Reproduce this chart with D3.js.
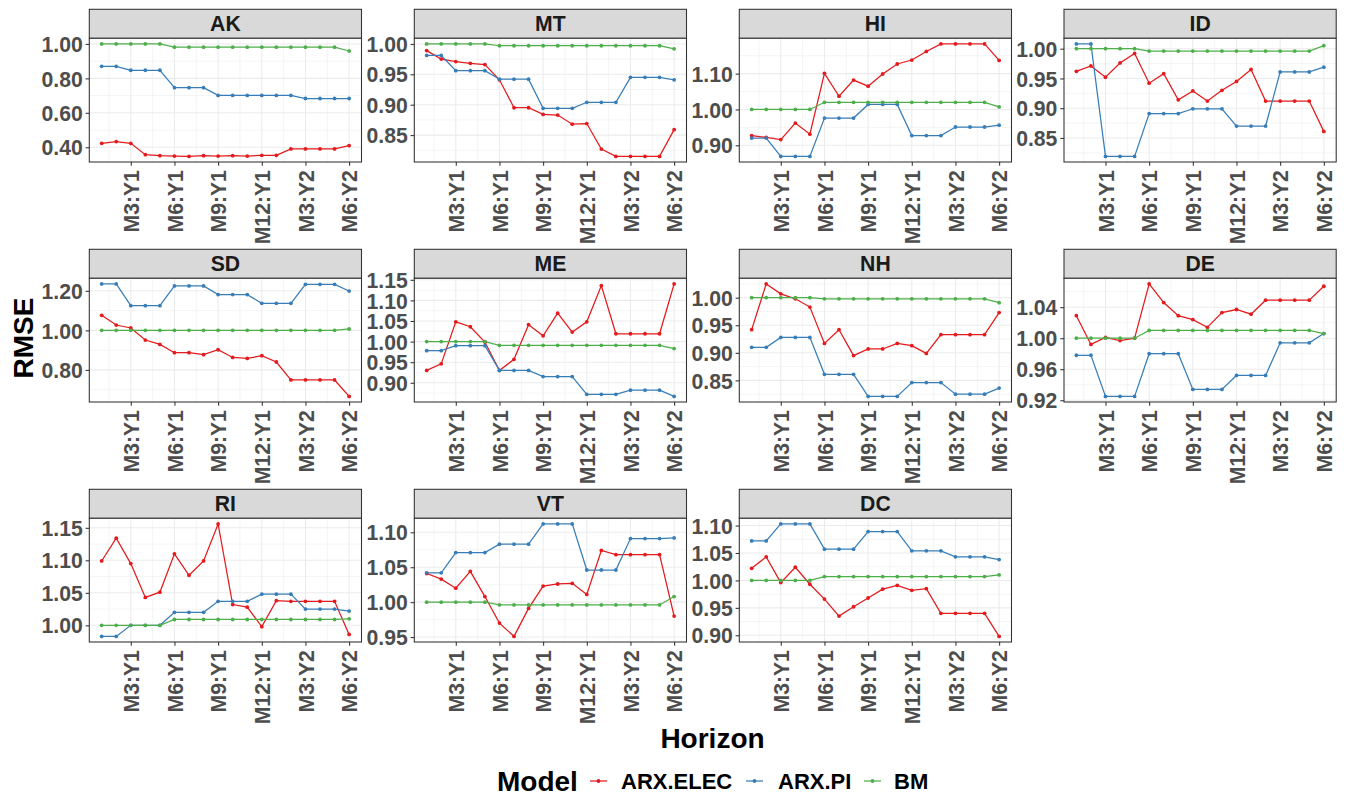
<!DOCTYPE html>
<html>
<head>
<meta charset="utf-8">
<script src="https://cdn.jsdelivr.net/npm/d3@7"></script>
<style>
  body { margin: 0; background: #ffffff; }
  svg { display: block; font-family: "Liberation Sans", Arial, Helvetica, sans-serif; font-weight: bold; }
</style>
</head>
<body>
<svg id="chart" width="1347" height="796"></svg>
<script>
// Facet order (4 columns, wrapped)
const states = ["AK", "MT", "HI", "ID", "SD", "ME", "NH", "DE", "RI", "VT", "DC"];

// Forecast horizons, one per x position
const horizons = ["M1:Y1", "M2:Y1", "M3:Y1", "M4:Y1", "M5:Y1", "M6:Y1", "M7:Y1", "M8:Y1", "M9:Y1",
                  "M10:Y1", "M11:Y1", "M12:Y1", "M1:Y2", "M2:Y2", "M3:Y2", "M4:Y2", "M5:Y2", "M6:Y2"];

// Labelled x breaks (positions in horizons, 1-based)
const xBreaks = [3, 6, 9, 12, 15, 18];

// RMSE, ARX.ELEC model, one row per state (same order as states)
const arxElec = [
  [0.423, 0.433, 0.423, 0.357, 0.351, 0.349, 0.347, 0.351, 0.349, 0.351, 0.349, 0.353, 0.353, 0.390, 0.390, 0.390, 0.390, 0.410],
  [0.989, 0.975, 0.971, 0.968, 0.966, 0.941, 0.895, 0.895, 0.884, 0.883, 0.868, 0.869, 0.827, 0.815, 0.815, 0.815, 0.815, 0.859],
  [0.927, 0.922, 0.916, 0.962, 0.931, 1.101, 1.037, 1.082, 1.065, 1.099, 1.127, 1.138, 1.162, 1.183, 1.183, 1.183, 1.183, 1.137],
  [0.962, 0.971, 0.952, 0.976, 0.992, 0.942, 0.958, 0.914, 0.929, 0.912, 0.930, 0.945, 0.965, 0.912, 0.912, 0.912, 0.912, 0.861],
  [1.076, 1.027, 1.012, 0.951, 0.929, 0.887, 0.887, 0.877, 0.902, 0.863, 0.858, 0.872, 0.840, 0.749, 0.749, 0.749, 0.749, 0.666],
  [0.930, 0.946, 1.048, 1.036, 0.999, 0.930, 0.957, 1.041, 1.014, 1.069, 1.023, 1.048, 1.136, 1.019, 1.019, 1.019, 1.019, 1.140],
  [0.942, 1.025, 1.007, 0.998, 0.983, 0.917, 0.942, 0.895, 0.907, 0.907, 0.917, 0.913, 0.899, 0.933, 0.933, 0.933, 0.933, 0.973],
  [1.029, 0.992, 1.001, 0.997, 1.000, 1.070, 1.046, 1.029, 1.024, 1.014, 1.033, 1.037, 1.031, 1.049, 1.049, 1.049, 1.049, 1.067],
  [1.099, 1.134, 1.095, 1.043, 1.051, 1.110, 1.077, 1.099, 1.156, 1.032, 1.028, 0.998, 1.038, 1.037, 1.037, 1.037, 1.037, 0.986],
  [1.041, 1.033, 1.020, 1.044, 1.008, 0.970, 0.951, 0.991, 1.023, 1.026, 1.027, 1.011, 1.074, 1.068, 1.068, 1.068, 1.068, 0.980],
  [1.022, 1.043, 0.996, 1.024, 0.993, 0.966, 0.935, 0.952, 0.968, 0.984, 0.991, 0.982, 0.985, 0.940, 0.940, 0.940, 0.940, 0.898]
];

// RMSE, ARX.PI model
const arxPi = [
  [0.870, 0.870, 0.847, 0.847, 0.847, 0.746, 0.746, 0.746, 0.701, 0.701, 0.701, 0.701, 0.701, 0.701, 0.683, 0.683, 0.683, 0.683],
  [0.981, 0.981, 0.956, 0.956, 0.956, 0.942, 0.942, 0.942, 0.894, 0.894, 0.894, 0.904, 0.904, 0.904, 0.945, 0.945, 0.945, 0.941],
  [0.920, 0.920, 0.869, 0.869, 0.869, 0.976, 0.976, 0.976, 1.014, 1.014, 1.014, 0.927, 0.927, 0.927, 0.951, 0.951, 0.951, 0.956],
  [1.008, 1.008, 0.819, 0.819, 0.819, 0.891, 0.891, 0.891, 0.899, 0.899, 0.899, 0.870, 0.870, 0.870, 0.961, 0.961, 0.961, 0.969],
  [1.235, 1.235, 1.125, 1.125, 1.125, 1.225, 1.225, 1.225, 1.181, 1.181, 1.181, 1.137, 1.137, 1.137, 1.233, 1.233, 1.233, 1.199],
  [0.978, 0.978, 0.990, 0.990, 0.990, 0.930, 0.930, 0.930, 0.915, 0.915, 0.915, 0.872, 0.872, 0.872, 0.882, 0.882, 0.882, 0.867],
  [0.910, 0.910, 0.928, 0.928, 0.928, 0.861, 0.861, 0.861, 0.821, 0.821, 0.821, 0.846, 0.846, 0.846, 0.825, 0.825, 0.825, 0.836],
  [0.978, 0.978, 0.925, 0.925, 0.925, 0.980, 0.980, 0.980, 0.934, 0.934, 0.934, 0.952, 0.952, 0.952, 0.994, 0.994, 0.994, 1.006],
  [0.983, 0.983, 1.000, 1.000, 1.000, 1.020, 1.020, 1.020, 1.037, 1.037, 1.037, 1.048, 1.048, 1.048, 1.025, 1.025, 1.025, 1.022],
  [1.042, 1.042, 1.071, 1.071, 1.071, 1.083, 1.083, 1.083, 1.112, 1.112, 1.112, 1.046, 1.046, 1.046, 1.091, 1.091, 1.091, 1.092],
  [1.072, 1.072, 1.103, 1.103, 1.103, 1.057, 1.057, 1.057, 1.089, 1.089, 1.089, 1.054, 1.054, 1.054, 1.043, 1.043, 1.043, 1.038]
];

// RMSE, benchmark model
const bm = [
  [1.000, 1.000, 1.000, 1.000, 1.000, 0.981, 0.981, 0.981, 0.981, 0.981, 0.981, 0.981, 0.981, 0.981, 0.981, 0.981, 0.981, 0.959],
  [1.000, 1.000, 1.000, 1.000, 1.000, 0.997, 0.997, 0.997, 0.997, 0.997, 0.997, 0.997, 0.997, 0.997, 0.997, 0.997, 0.997, 0.992],
  [1.000, 1.000, 1.000, 1.000, 1.000, 1.020, 1.020, 1.020, 1.020, 1.020, 1.020, 1.020, 1.020, 1.020, 1.020, 1.020, 1.020, 1.007],
  [1.000, 1.000, 1.000, 1.000, 1.000, 0.996, 0.996, 0.996, 0.996, 0.996, 0.996, 0.996, 0.996, 0.996, 0.996, 0.996, 0.996, 1.005],
  [1.000, 1.000, 1.000, 1.000, 1.000, 1.000, 1.000, 1.000, 1.000, 1.000, 1.000, 1.000, 1.000, 1.000, 1.000, 1.000, 1.000, 1.007],
  [1.000, 1.000, 1.000, 1.000, 1.000, 0.991, 0.991, 0.991, 0.991, 0.991, 0.991, 0.991, 0.991, 0.991, 0.991, 0.991, 0.991, 0.983],
  [1.000, 1.000, 1.000, 1.000, 1.000, 0.998, 0.998, 0.998, 0.998, 0.998, 0.998, 0.998, 0.998, 0.998, 0.998, 0.998, 0.998, 0.991],
  [1.000, 1.000, 1.000, 1.000, 1.000, 1.010, 1.010, 1.010, 1.010, 1.010, 1.010, 1.010, 1.010, 1.010, 1.010, 1.010, 1.010, 1.006],
  [1.000, 1.000, 1.000, 1.000, 1.000, 1.009, 1.009, 1.009, 1.009, 1.009, 1.009, 1.009, 1.009, 1.009, 1.009, 1.009, 1.009, 1.010],
  [1.000, 1.000, 1.000, 1.000, 1.000, 0.996, 0.996, 0.996, 0.996, 0.996, 0.996, 0.996, 0.996, 0.996, 0.996, 0.996, 0.996, 1.008],
  [1.000, 1.000, 1.000, 1.000, 1.000, 1.007, 1.007, 1.007, 1.007, 1.007, 1.007, 1.007, 1.007, 1.007, 1.007, 1.007, 1.007, 1.010]
];

// Y tick labels for each facet (free scales)
const yTicks = [
  [0.40, 0.60, 0.80, 1.00],
  [0.85, 0.90, 0.95, 1.00],
  [0.90, 1.00, 1.10],
  [0.85, 0.90, 0.95, 1.00],
  [0.80, 1.00, 1.20],
  [0.90, 0.95, 1.00, 1.05, 1.10, 1.15],
  [0.85, 0.90, 0.95, 1.00],
  [0.92, 0.96, 1.00, 1.04],
  [1.00, 1.05, 1.10, 1.15],
  [0.95, 1.00, 1.05, 1.10],
  [0.90, 0.95, 1.00, 1.05, 1.10]
];

const modelNames = ["ARX.ELEC", "ARX.PI", "BM"];
const modelColors = ["#E41A1C", "#377EB8", "#4DAF4A"];
const modelData = [arxElec, arxPi, bm];

// ---- layout ----
const svg = d3.select("#chart");
const colLeft = [89.3, 414.3, 739.3, 1064];
const rowTop = [9.3, 249.3, 489.3];
const panelW = 272.2, stripH = 29, plotH = 123.7;
const tickLen = 3.7;
const tickFont = 21.2;
const darkLine = "#333333";
const gridCol = "#EBEBEB";

const n = horizons.length;
const xExp = (n - 1) * 0.05;
const x = d3.scaleLinear().domain([1 - xExp, n + xExp]).range([0, panelW]);
const xMinor = d3.range(1.5, n + xExp, 3);

const color = d3.scaleOrdinal().domain(modelNames).range(modelColors);
const line = d3.line().x((d, j) => x(j + 1)).y(d => d);

states.forEach((st, i) => {
  const col = i % 4, row = Math.floor(i / 4);
  const g = svg.append("g").attr("transform", `translate(${colLeft[col]},${rowTop[row]})`);

  // strip
  g.append("rect")
    .attr("x", 0).attr("y", 0).attr("width", panelW).attr("height", stripH)
    .attr("fill", "#D9D9D9").attr("stroke", darkLine).attr("stroke-width", 1.07);
  g.append("text")
    .attr("x", panelW / 2).attr("y", stripH / 2).attr("dy", "0.36em")
    .attr("text-anchor", "middle").attr("font-size", tickFont).attr("fill", "#1A1A1A")
    .text(st);

  const p = g.append("g").attr("transform", `translate(0,${stripH})`);

  // free y scale with 5% expansion
  const all = modelData.flatMap(m => m[i]);
  const [lo, hi] = d3.extent(all);
  const pad = (hi - lo) * 0.05;
  const y = d3.scaleLinear().domain([lo - pad, hi + pad]).range([plotH, 0]);

  p.append("rect").attr("width", panelW).attr("height", plotH).attr("fill", "#ffffff");

  // minor grid
  const t = yTicks[i];
  const step = t[1] - t[0];
  const yMinor = d3.range(t[0] - step / 2, hi + pad, step).filter(v => v > lo - pad && v < hi + pad);
  p.selectAll(".ymin").data(yMinor).join("line")
    .attr("x1", 0).attr("x2", panelW).attr("y1", d => y(d)).attr("y2", d => y(d))
    .attr("stroke", gridCol).attr("stroke-width", 0.55);
  p.selectAll(".xmin").data(xMinor).join("line")
    .attr("y1", 0).attr("y2", plotH).attr("x1", d => x(d)).attr("x2", d => x(d))
    .attr("stroke", gridCol).attr("stroke-width", 0.55);
  // major grid
  p.selectAll(".ymaj").data(t).join("line")
    .attr("x1", 0).attr("x2", panelW).attr("y1", d => y(d)).attr("y2", d => y(d))
    .attr("stroke", gridCol).attr("stroke-width", 1.07);
  p.selectAll(".xmaj").data(xBreaks).join("line")
    .attr("y1", 0).attr("y2", plotH).attr("x1", d => x(d)).attr("x2", d => x(d))
    .attr("stroke", gridCol).attr("stroke-width", 1.07);

  // lines, then points
  modelData.forEach((m, k) => {
    p.append("path")
      .attr("d", line(m[i].map(v => y(v))))
      .attr("fill", "none").attr("stroke", color(modelNames[k])).attr("stroke-width", 1.25);
  });
  modelData.forEach((m, k) => {
    p.selectAll(null).data(m[i]).join("circle")
      .attr("cx", (d, j) => x(j + 1)).attr("cy", d => y(d)).attr("r", 1.9)
      .attr("fill", color(modelNames[k]));
  });

  // border
  p.append("rect").attr("width", panelW).attr("height", plotH)
    .attr("fill", "none").attr("stroke", darkLine).attr("stroke-width", 1.07);

  // y axis
  const ya = p.append("g").call(
    d3.axisLeft(y).tickValues(t).tickFormat(d3.format(".2f")).tickSize(tickLen).tickSizeOuter(0));
  ya.select(".domain").remove();
  ya.selectAll("line").attr("stroke", darkLine).attr("stroke-width", 1.07);
  ya.selectAll("text")
    .attr("x", -(tickLen + 2.9)).attr("dy", "0.36em")
    .attr("font-size", tickFont).attr("font-family", null).attr("fill", "#4D4D4D");

  // x axis
  const xa = p.append("g").attr("transform", `translate(0,${plotH})`).call(
    d3.axisBottom(x).tickValues(xBreaks).tickFormat(d => horizons[d - 1]).tickSize(tickLen).tickSizeOuter(0));
  xa.select(".domain").remove();
  xa.selectAll("line").attr("stroke", darkLine).attr("stroke-width", 1.07);
  xa.selectAll("text")
    .attr("transform", "rotate(-90)")
    .attr("x", -(tickLen + 4.4)).attr("y", 0).attr("dy", "0.36em")
    .attr("text-anchor", "end")
    .attr("font-size", tickFont).attr("font-family", null).attr("fill", "#4D4D4D");
});

// axis titles
svg.append("text")
  .attr("transform", "translate(33.3,338) rotate(-90)")
  .attr("text-anchor", "middle").attr("font-size", 28).attr("fill", "#000")
  .text("RMSE");
svg.append("text")
  .attr("x", 712.5).attr("y", 748)
  .attr("text-anchor", "middle").attr("font-size", 28).attr("fill", "#000")
  .text("Horizon");

// legend
const legY = 781;
svg.append("text").attr("x", 497).attr("y", legY).attr("dy", "0.36em")
  .attr("font-size", 28).attr("fill", "#000").text("Model");
const keyX = [590, 746, 864];
const labX = [621, 778, 894];
modelNames.forEach((name, k) => {
  const lg = svg.append("g");
  lg.append("line").attr("x1", keyX[k]).attr("x2", keyX[k] + 17)
    .attr("y1", legY).attr("y2", legY)
    .attr("stroke", color(name)).attr("stroke-width", 1.25);
  lg.append("circle").attr("cx", keyX[k] + 8.5).attr("cy", legY).attr("r", 1.9).attr("fill", color(name));
  lg.append("text").attr("x", labX[k]).attr("y", legY).attr("dy", "0.36em")
    .attr("font-size", 22).attr("fill", "#000").text(name);
});
</script>
</body>
</html>
